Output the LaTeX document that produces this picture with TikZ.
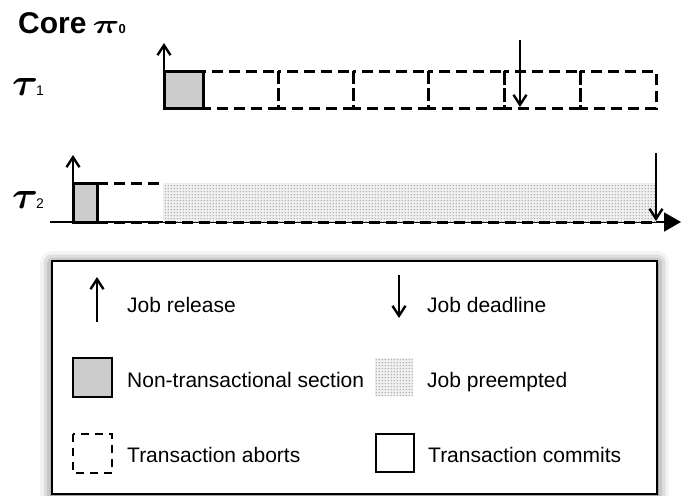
\documentclass[tikz,border=0pt]{standalone}
\usepackage{fontspec}
\usepackage{bm}
\setmainfont{Liberation Sans}
\usetikzlibrary{arrows.meta,patterns.meta,shadows.blur}

% fine grey dot raster for preempted intervals
\tikzdeclarepattern{
  name=greydots, type=uncolored,
  bounding box={(0,0) and (3.3pt,3.3pt)},
  tile size={(3.3pt,3.3pt)},
  code={\fill (1.65pt,1.65pt) circle (0.9pt);}
}

\begin{document}
\begin{tikzpicture}[x=1pt,y=-1pt,
  thick line/.style={line width=3pt},
  nts/.style={thick line, fill=gray!40},
  abort/.style={thick line, dash pattern=on 11pt off 6pt},
  commit/.style={thick line},
  preempt/.style={fill=gray!12, postaction={pattern=greydots, pattern color=gray!65}},
  release/.style={line width=2.6pt, -{Straight Barb[length=10pt,width=13pt,line width=2.4pt]}},
  deadline/.style={line width=2.6pt, -{Straight Barb[length=10pt,width=13pt,line width=2.4pt]}},
  legtext/.style={anchor=base west, inner sep=0pt, font=\fontsize{21}{25}\selectfont},
  tasklabel/.style={anchor=base west, inner sep=0pt},
]
\useasboundingbox (0,0) rectangle (681,496);

% ---------- title ----------
\node[tasklabel] (title) at (18,33)
  {\fontsize{30}{30}\selectfont\bfseries Core\hspace{6pt}%
   \resizebox{27pt}{12pt}{$\bm{\pi}$}\hspace{-1pt}\fontsize{13}{13}\selectfont 0};

% ---------- task labels ----------
\node[tasklabel] (t1) at (12,95)
  {\resizebox{26pt}{17pt}{$\bm{\tau}$}\hspace{-2pt}\fontsize{14}{14}\selectfont 1};
\node[tasklabel] (t2) at (12,208)
  {\resizebox{26pt}{17pt}{$\bm{\tau}$}\hspace{-2pt}\fontsize{14}{14}\selectfont 2};

% ---------- time axis ----------
\coordinate (axs) at (50,222);
\coordinate (axe) at (681,222);
\draw[line width=1.8pt, -{Triangle[length=17pt,width=19pt]}] (axs) -- (axe);

% ---------- task 1 ----------
\draw[nts] (164,71) rectangle (203,108);
\foreach \a/\b in {203/278, 278/353, 353/428, 428/504, 504/580, 580/656}
  \draw[abort] (\a,71) rectangle (\b,108);
\coordinate (r1a) at (164,71);
\coordinate (r1b) at (164,43);
\draw[release] (r1a) -- (r1b);
\coordinate (d1a) at (520,40);
\coordinate (d1b) at (520,107);
\draw[deadline] (d1a) -- (d1b);

% ---------- task 2 ----------
\path[preempt] (163,183) rectangle (656,222);
\draw[nts] (73,183) rectangle (97,222);
\draw[abort] (97,183) -- (163,183);
\draw[abort] (97,222) -- (656,222);
\coordinate (r2a) at (73,183);
\coordinate (r2b) at (73,155);
\draw[release] (r2a) -- (r2b);
\coordinate (d2a) at (656,153);
\coordinate (d2b) at (656,221);
\draw[deadline] (d2a) -- (d2b);

% ---------- legend ----------
\node[draw, line width=2.2pt, fill=white, minimum width=605pt, minimum height=233pt,
      anchor=north west, inner sep=0pt,
      blur shadow={shadow xshift=0pt, shadow yshift=-2pt, shadow blur radius=12pt, shadow opacity=70}]
  (legend) at (51,260) {};

\coordinate (lra) at (97,322);
\coordinate (lrb) at (97,277);
\draw[release, line width=2.2pt] (lra) -- (lrb);
\node[legtext] (lrel) at (127,312) {Job release};

\coordinate (lda) at (399,275);
\coordinate (ldb) at (399,318);
\draw[deadline, line width=2.2pt] (lda) -- (ldb);
\node[legtext] (ldl) at (427,312) {Job deadline};

\draw[nts, line width=2.4pt] (73,358) rectangle (112,397);
\node[legtext] (lnts) at (127,387) {Non-transactional section};

\path[preempt] (375,358) rectangle (413,396);
\node[legtext] (lpre) at (427,387) {Job preempted};

\draw[abort, line width=2.4pt, dash pattern=on 8pt off 6pt] (73,434) rectangle (112,473);
\node[legtext] (labt) at (127,462) {Transaction aborts};

\draw[commit, line width=2.4pt] (376,434) rectangle (414,472);
\node[legtext] (lcom) at (428,462) {Transaction commits};
\end{tikzpicture}
\end{document}
